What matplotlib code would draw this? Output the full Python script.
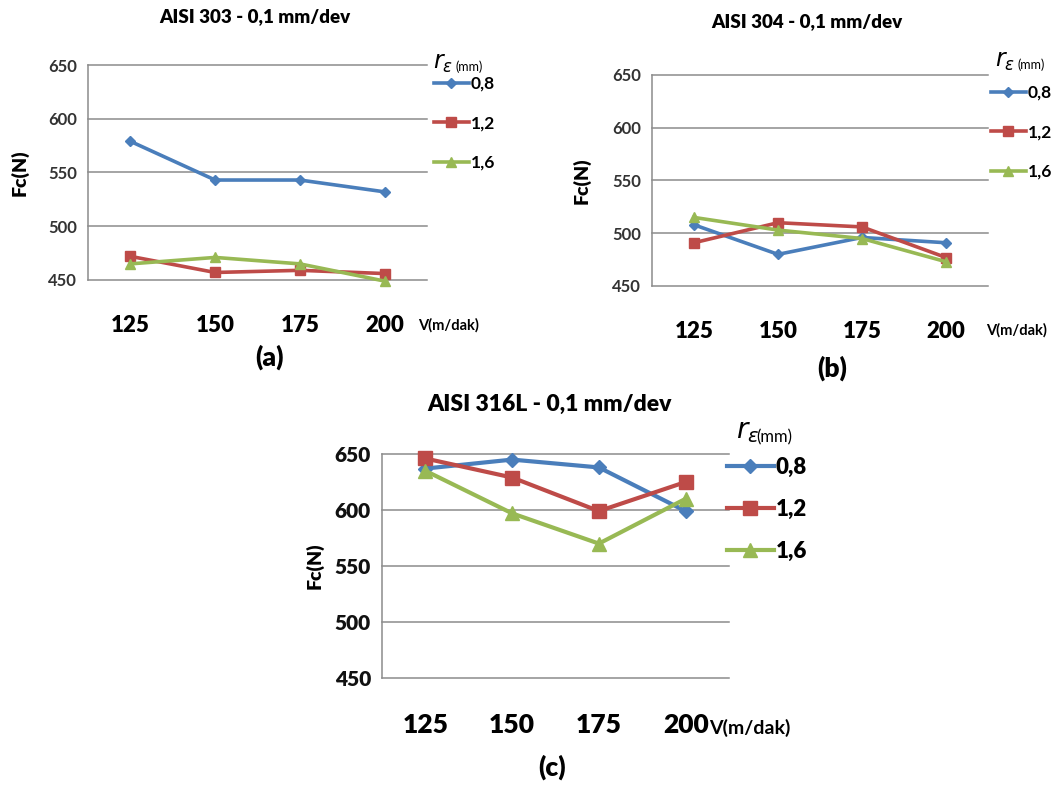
import numpy as np
import matplotlib
matplotlib.use("Agg")
import matplotlib.pyplot as plt

plt.rcParams['font.family'] = ['Lato', 'DejaVu Sans']
plt.rcParams['mathtext.fontset'] = 'dejavusans'

# cutting speed (m/dak) and nose radius (mm)
speeds = [125, 150, 175, 200]
radii = ['0,8', '1,2', '1,6']

fc_303_08 = [579, 543, 543, 532]
fc_303_12 = [472, 457, 459, 456]
fc_303_16 = [465, 471, 465, 449]

fc_304_08 = [508, 480, 496, 491]
fc_304_12 = [491, 510, 506, 477]
fc_304_16 = [515, 503, 495, 473]

fc_316_08 = [637, 645, 638, 599]
fc_316_12 = [646, 629, 599, 625]
fc_316_16 = [635, 597, 570, 610]

y_ticks = [450, 500, 550, 600, 650]

colors = ['#4a7ebb', '#be4b48', '#98b954']
markers = ['D', 's', '^']

W, H = 1059, 788
BOLD = 'heavy'


def fx(px):
    return px / W


def fy(py):
    return 1 - py / H


def panel(fig, series, title, letter, box, big=False, title_xy=None,
          letter_xy=None, ylab_x=None, unit_xy=None, leg_xy=None,
          leg_title_xy=None):
    x0, y0, x1, y1 = box
    ax = fig.add_axes([fx(x0), fy(y1), fx(x1 - x0), (y1 - y0) / H])
    x = np.arange(len(speeds))
    lw = 3.0 if big else 2.6
    msz = [7, 9.5, 9.5] if big else [5.5, 7.5, 7.5]
    for i, vals in enumerate(series):
        ax.plot(x, vals, color=colors[i], marker=markers[i], ms=msz[i],
                lw=lw, label=radii[i], clip_on=False, zorder=3)
    ax.set_xlim(-0.5, len(speeds) - 0.5)
    ax.set_ylim(450, 650)
    for v in y_ticks:
        ax.axhline(v, color='#8c8c8c', lw=1.1, clip_on=False, zorder=1)
    for s in ['top', 'right', 'bottom']:
        ax.spines[s].set_visible(False)
    ax.spines['left'].set_color('#8c8c8c')
    ax.spines['left'].set_linewidth(1.1)
    ax.set_xticks(x)
    ax.set_xticklabels([str(s) for s in speeds])
    ax.set_yticks(y_ticks)
    xt = 19 if big else 16
    yt = 15 if big else 12
    ax.tick_params(axis='x', length=0, labelsize=xt, pad=25 if big else 25)
    ax.tick_params(axis='y', length=0, labelsize=yt, pad=8)
    for t in ax.get_xticklabels():
        t.set_fontweight(BOLD)
    for t in ax.get_yticklabels():
        t.set_fontweight(BOLD if big else 'bold')
        t.set_color('#111111' if big else '#333333')

    fig.text(fx(title_xy[0]), fy(title_xy[1]), title, ha='center',
             va='center', fontsize=16.5 if big else 13.5, fontweight=BOLD)
    fig.text(fx(letter_xy[0]), fy(letter_xy[1]), letter, ha='center',
             va='center', fontsize=19, fontweight=BOLD)
    fig.text(fx(ylab_x), fy((y0 + y1) / 2), 'Fc(N)', rotation=90,
             ha='center', va='center', fontsize=14, fontweight=BOLD)
    fig.text(fx(unit_xy[0]), fy(unit_xy[1]), 'V(m/dak)', ha='left',
             va='center', fontsize=14 if big else 10.5,
             fontweight='bold')

    fig.text(fx(leg_title_xy[0]), fy(leg_title_xy[1]),
             r'$\mathit{r}_{\varepsilon}$', ha='left', va='center',
             fontsize=20 if big else 17)
    fig.text(fx(leg_title_xy[0] + (20 if big else 22)),
             fy(leg_title_xy[1] + (5 if big else 3)),
             '(mm)', ha='left', va='center',
             fontsize=12 if big else 9)
    leg = ax.legend(loc='upper left',
                    bbox_to_anchor=(fx(leg_xy[0]), fy(leg_xy[1])),
                    bbox_transform=fig.transFigure, frameon=False,
                    fontsize=16 if big else 12.5, numpoints=1,
                    handlelength=2.1 if big else 2.0,
                    handletextpad=0.1, borderpad=0, borderaxespad=0,
                    labelspacing=0.95 if big else 1.35)
    for t in leg.get_texts():
        t.set_fontweight(BOLD if big else 'bold')
    return ax


fig = plt.figure(figsize=(W / 100, H / 100), dpi=100)

panel(fig, [fc_303_08, fc_303_12, fc_303_16], 'AISI 303 - 0,1 mm/dev', '(a)',
      (88, 65, 427, 280), title_xy=(255, 17), letter_xy=(270, 357),
      ylab_x=20, unit_xy=(418, 325), leg_xy=(434, 76),
      leg_title_xy=(433, 64))

panel(fig, [fc_304_08, fc_304_12, fc_304_16], 'AISI 304 - 0,1 mm/dev', '(b)',
      (652, 75, 988, 286), title_xy=(807, 22), letter_xy=(832, 368),
      ylab_x=582, unit_xy=(986, 330), leg_xy=(991, 85),
      leg_title_xy=(995, 62))

panel(fig, [fc_316_08, fc_316_12, fc_316_16], 'AISI 316L - 0,1 mm/dev', '(c)',
      (382, 454, 729, 678), big=True, title_xy=(550, 404),
      letter_xy=(552, 767), ylab_x=315, unit_xy=(709, 728),
      leg_xy=(727, 457), leg_title_xy=(736, 432))

fig.savefig('out.png', dpi=100)
